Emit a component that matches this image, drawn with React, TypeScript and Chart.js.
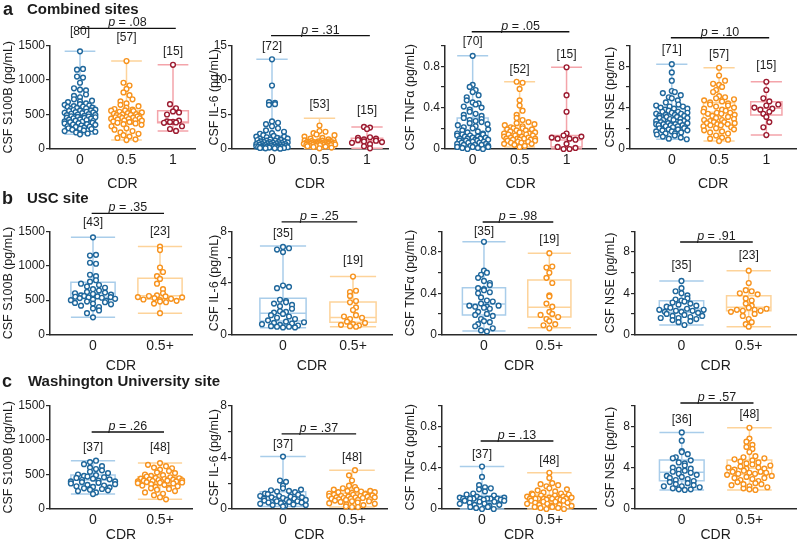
import React, { useEffect, useRef } from 'react';
import { Chart, registerables } from 'chart.js';
Chart.register(...registerables);

const FONT = '"Liberation Sans", Arial, Helvetica, sans-serif';
Chart.defaults.font.family = FONT;

// ---------- categories, tick labels, p values ----------
const cdrCombined = ['0', '0.5', '1'];
const cdrSite = ['0', '0.5+'];
const s100bTickLabels = ['0', '500', '1000', '1500'];
const il6CombinedTickLabels = ['0', '5', '10', '15'];
const il6SiteTickLabels = ['0', '4', '8'];
const tnfTickLabels = ['0', '0.4', '0.8'];
const nseTickLabels = ['0', '4', '8'];
const pValues = ['.08', '.31', '.05', '.10', '.35', '.25', '.98', '.91', '.26', '.37', '.13', '.57'];

// ---------- a: Combined sites ----------
const nA_s100b = [80, 57, 15];
const s100bA_cdr0 = [1415,1160,1150,1050,1035,960,880,860,850,790,770,750,720,700,690,680,660,650,640,630,620,615,610,600,595,590,580,570,565,560,555,550,540,535,530,525,520,510,505,500,495,490,480,475,470,465,460,455,450,445,440,430,425,420,410,405,400,395,390,380,375,370,360,355,350,340,330,325,320,310,300,295,290,280,270,260,250,240,225,212];
const s100bA_cdr05 = [1275,960,920,870,820,780,720,690,660,640,620,600,580,570,560,555,550,540,530,520,510,505,500,495,490,480,475,470,465,460,455,450,445,440,435,430,420,415,410,400,395,390,380,370,360,350,330,300,280,260,240,220,200,180,160,140,130];
const s100bA_cdr1 = [1220,650,590,545,530,500,410,400,395,390,385,380,330,290,262];
const s100bA_box0 = [212, 406, 500, 628, 1415];
const s100bA_box05 = [130, 406, 465, 555, 1275];
const s100bA_box1 = [262, 381, 392, 555, 1220];

const nA_il6 = [72, 53, 15];
const il6A_cdr0 = [13,9.2,6.8,6.7,6.5,6.4,4.0,3.8,3.6,3.3,3.0,2.7,2.5,2.3,2.2,2.0,1.9,1.8,1.8,1.7,1.6,1.5,1.5,1.4,1.4,1.3,1.3,1.2,1.2,1.1,1.1,1.0,1.0,1.0,0.95,0.9,0.9,0.85,0.8,0.8,0.75,0.7,0.7,0.7,0.65,0.6,0.6,0.6,0.55,0.5,0.5,0.5,0.45,0.45,0.4,0.4,0.4,0.35,0.35,0.3,0.3,0.3,0.25,0.25,0.2,0.2,0.2,0.15,0.15,0.1,0.1,0.05];
const il6A_cdr05 = [3.4,2.6,2.5,2.3,2.1,2.0,1.8,1.6,1.5,1.4,1.3,1.25,1.2,1.15,1.1,1.1,1.05,1.0,1.0,1.0,0.95,0.95,0.9,0.9,0.9,0.85,0.85,0.85,0.8,0.8,0.8,0.8,0.75,0.75,0.75,0.7,0.7,0.7,0.65,0.65,0.6,0.6,0.6,0.55,0.55,0.5,0.5,0.45,0.4,0.35,0.3,0.2,0.1];
const il6A_cdr1 = [3.2,3.1,2.9,1.7,1.6,1.5,1.4,1.3,1.2,1.1,1.0,0.9,0.7,0.4,0.1];
const il6A_box0 = [0.05, 0.45, 0.9, 1.93, 13];
const il6A_box05 = [0.1, 0.6, 0.8, 1.1, 4.45];
const il6A_box1 = [0.1, 0.91, 1.2, 1.55, 3.2];

const nA_tnf = [70, 52, 15];
const tnfA_cdr0 = [0.9,0.62,0.6,0.57,0.55,0.52,0.5,0.47,0.45,0.44,0.43,0.41,0.4,0.38,0.36,0.34,0.33,0.32,0.3,0.29,0.28,0.27,0.26,0.25,0.24,0.23,0.22,0.21,0.2,0.19,0.18,0.17,0.16,0.15,0.15,0.14,0.14,0.13,0.13,0.12,0.12,0.11,0.11,0.1,0.1,0.1,0.09,0.09,0.08,0.08,0.08,0.07,0.07,0.06,0.06,0.06,0.05,0.05,0.04,0.04,0.04,0.03,0.03,0.02,0.02,0.02,0.01,0.01,0.0,0.0];
const tnfA_cdr05 = [0.65,0.64,0.58,0.47,0.42,0.37,0.33,0.3,0.28,0.26,0.25,0.24,0.23,0.22,0.21,0.2,0.2,0.19,0.19,0.18,0.18,0.17,0.16,0.16,0.15,0.15,0.14,0.14,0.13,0.13,0.12,0.12,0.11,0.11,0.1,0.1,0.1,0.1,0.09,0.09,0.09,0.08,0.08,0.07,0.07,0.06,0.06,0.05,0.05,0.04,0.03,0.02];
const tnfA_cdr1 = [0.79,0.52,0.36,0.15,0.13,0.12,0.11,0.1,0.1,0.09,0.05,0.02,0.01,0.0,0.0];
const tnfA_box0 = [0, 0.07, 0.13, 0.30, 0.9];
const tnfA_box05 = [0.02, 0.087, 0.13, 0.19, 0.65];
const tnfA_box1 = [0, 0.02, 0.087, 0.13, 0.79];

const nA_nse = [71, 57, 15];
const nseA_cdr0 = [8.2,7.4,6.6,5.6,5.5,5.4,5.2,5.0,4.9,4.7,4.5,4.3,4.2,4.1,4.1,4.0,3.9,3.9,3.8,3.7,3.6,3.6,3.5,3.5,3.4,3.4,3.3,3.3,3.2,3.2,3.1,3.1,3.0,3.0,2.9,2.9,2.8,2.8,2.7,2.7,2.6,2.6,2.5,2.5,2.4,2.4,2.4,2.3,2.3,2.3,2.2,2.2,2.1,2.1,2.0,2.0,1.9,1.9,1.8,1.8,1.7,1.7,1.6,1.5,1.5,1.4,1.3,1.2,1.1,1.0,0.94];
const nseA_cdr05 = [7.85,7.1,6.6,6.3,6.2,6.0,5.7,5.5,5.1,5.0,4.9,4.8,4.7,4.6,4.5,4.4,4.3,4.2,4.1,4.0,3.9,3.8,3.7,3.6,3.5,3.5,3.4,3.4,3.3,3.2,3.1,3.0,2.9,2.8,2.8,2.7,2.6,2.6,2.5,2.5,2.4,2.4,2.3,2.3,2.2,2.1,2.0,1.9,1.8,1.7,1.6,1.5,1.3,1.1,1.0,0.9,0.77];
const nseA_cdr1 = [6.5,5.7,4.9,4.6,4.3,4.2,4.0,3.9,3.8,3.6,3.4,3.1,2.6,2.1,1.35];
const nseA_box0 = [0.94, 2.1, 3.0, 3.99, 8.2];
const nseA_box05 = [0.77, 2.42, 3.54, 4.47, 7.85];
const nseA_box1 = [1.35, 3.29, 3.93, 4.57, 6.5];

// ---------- b: USC site ----------
const nB_s100b = [43, 23];
const s100bB_cdr0 = [1415,1160,1150,1045,1030,870,850,790,770,740,720,700,680,660,640,620,610,600,590,580,570,560,555,550,545,540,535,530,520,510,500,490,480,470,460,450,440,420,400,380,350,310,250];
const s100bB_cdr05 = [1280,1230,975,910,850,810,740,660,600,570,560,555,545,540,530,520,510,500,490,480,470,450,310];
const s100bB_box0 = [250, 542, 600, 760, 1415];
const s100bB_box05 = [310, 513, 565, 818, 1280];

const nB_il6 = [35, 19];
const il6B_cdr0 = [6.8,6.7,6.6,6.4,3.8,3.7,3.6,2.7,2.6,2.5,2.4,2.3,2.2,2.0,1.8,1.75,1.7,1.6,1.5,1.4,1.3,1.2,1.1,1.0,0.95,0.9,0.85,0.8,0.75,0.7,0.65,0.6,0.6,0.55,0.55];
const il6B_cdr05 = [4.5,3.4,3.3,3.0,2.6,2.5,2.1,1.9,1.5,1.4,1.3,1.2,1.0,0.9,0.8,0.75,0.7,0.65,0.6];
const il6B_box0 = [0.53, 1.05, 1.65, 2.81, 6.87];
const il6B_box05 = [0.6, 0.95, 1.33, 2.52, 4.5];

const nB_tnf = [35, 19];
const tnfB_cdr0 = [0.9,0.62,0.6,0.58,0.55,0.52,0.5,0.48,0.45,0.44,0.43,0.41,0.4,0.36,0.33,0.32,0.3,0.28,0.28,0.27,0.27,0.26,0.25,0.22,0.2,0.19,0.18,0.15,0.13,0.12,0.1,0.08,0.06,0.04,0.03];
const tnfB_cdr05 = [0.79,0.66,0.65,0.6,0.55,0.5,0.38,0.37,0.3,0.27,0.22,0.2,0.19,0.17,0.15,0.13,0.1,0.09,0.06];
const tnfB_box0 = [0.035, 0.19, 0.296, 0.454, 0.9];
const tnfB_box05 = [0.066, 0.17, 0.264, 0.53, 0.79];

const nB_nse = [35, 23];
const nseB_cdr0 = [5.2,4.5,4.2,4.0,3.8,3.5,3.4,3.3,3.2,3.1,3.0,2.9,2.8,2.7,2.6,2.5,2.4,2.4,2.3,2.3,2.2,2.2,2.1,2.0,1.9,1.8,1.8,1.7,1.6,1.6,1.5,1.4,1.3,1.2,0.92];
const nseB_cdr05 = [6.2,5.0,4.3,4.2,4.0,3.9,3.5,3.3,3.0,2.8,2.6,2.5,2.4,2.4,2.3,2.3,2.2,2.0,1.8,1.5,1.2,1.0,0.76];
const nseB_box0 = [0.92, 2.15, 2.47, 3.28, 5.2];
const nseB_box05 = [0.76, 2.31, 2.64, 3.77, 6.2];

// ---------- c: Washington University site ----------
const nC_s100b = [37, 48];
const s100bC_cdr0 = [700,680,650,620,600,580,560,540,520,500,490,480,470,460,450,440,430,420,410,400,400,390,380,370,360,350,340,330,320,310,300,290,280,270,260,240,217];
const s100bC_cdr05 = [665,640,620,600,590,570,550,530,520,500,490,480,470,460,450,445,440,435,430,425,420,415,410,410,405,400,400,395,390,385,380,375,370,360,350,340,330,320,310,300,290,280,260,240,220,200,170,140];
const s100bC_box0 = [217, 348, 420, 493, 700];
const s100bC_box05 = [140, 372, 410, 468, 665];

const nC_il6 = [37, 48];
const il6C_cdr0 = [4.05,2.2,2.1,1.8,1.6,1.5,1.45,1.4,1.35,1.3,1.2,1.15,1.1,1.0,1.0,0.95,0.9,0.9,0.85,0.8,0.8,0.75,0.7,0.7,0.65,0.6,0.6,0.55,0.5,0.5,0.45,0.4,0.35,0.3,0.3,0.25,0.2];
const il6C_cdr05 = [3.0,2.6,2.2,1.8,1.7,1.6,1.5,1.5,1.4,1.4,1.35,1.3,1.3,1.25,1.2,1.2,1.15,1.1,1.1,1.05,1.0,1.0,1.0,0.95,0.95,0.9,0.9,0.9,0.85,0.85,0.8,0.8,0.75,0.75,0.7,0.7,0.65,0.6,0.6,0.55,0.5,0.45,0.4,0.35,0.3,0.2,0.15,0.15];
const il6C_box0 = [0.2, 0.62, 0.95, 1.34, 4.05];
const il6C_box05 = [0.15, 0.83, 1.0, 1.21, 3.0];

const nC_tnf = [37, 48];
const tnfC_cdr0 = [0.41,0.31,0.23,0.21,0.2,0.19,0.17,0.15,0.14,0.13,0.12,0.11,0.11,0.1,0.1,0.1,0.1,0.1,0.1,0.1,0.09,0.09,0.08,0.08,0.07,0.07,0.06,0.05,0.05,0.04,0.04,0.03,0.02,0.02,0.01,0.0,0.0];
const tnfC_cdr05 = [0.35,0.3,0.25,0.24,0.23,0.22,0.2,0.19,0.18,0.17,0.16,0.15,0.15,0.14,0.14,0.13,0.13,0.12,0.12,0.11,0.11,0.1,0.1,0.1,0.1,0.1,0.1,0.1,0.09,0.09,0.08,0.08,0.07,0.07,0.06,0.06,0.05,0.05,0.04,0.04,0.03,0.03,0.02,0.02,0.01,0.01,0.0,0.0];
const tnfC_box0 = [0, 0.061, 0.1, 0.126, 0.41];
const tnfC_box05 = [0, 0.07, 0.1, 0.135, 0.35];

const nC_nse = [36, 48];
const nseC_cdr0 = [7.4,6.6,5.6,5.5,5.3,5.0,4.9,4.7,4.5,4.4,4.2,4.0,3.9,3.8,3.7,3.6,3.5,3.4,3.3,3.2,3.1,3.0,2.9,2.8,2.7,2.6,2.5,2.4,2.3,2.2,2.2,2.1,2.0,1.9,1.9,1.84];
const nseC_cdr05 = [7.85,6.8,6.5,6.2,6.0,5.8,5.5,5.1,5.0,4.9,4.8,4.7,4.6,4.5,4.4,4.3,4.2,4.1,4.0,4.0,3.9,3.9,3.8,3.7,3.6,3.5,3.5,3.4,3.4,3.3,3.2,3.1,3.0,3.0,2.9,2.8,2.7,2.6,2.5,2.4,2.3,2.2,2.1,2.0,1.9,1.84,2.4,3.6];
const nseC_box0 = [1.84, 2.74, 3.55, 4.73, 7.4];
const nseC_box05 = [1.84, 3.35, 3.93, 4.73, 7.85];

// ---------- styling / layout ----------
const COLORS: Record<string, { pt: string; box: string }> = {
  blue: { pt: '#1f679c', box: '#a9cdea' },
  orange: { pt: '#f7931e', box: '#fdd39a' },
  red: { pt: '#9c1b30', box: '#f4a4aa' },
};
const TEXT = '#1c1c1c';
const AXIS = '#2a2a2a';
const BOX_FRAC = 0.66;
const DIAM = 6;

const ROWS = [
  { top: 0, h: 195, plotTop: 45.5, plotBottom: 149, titlePad: 2.6 },
  { top: 195, h: 180, plotTop: 36.5, plotBottom: 139.5, titlePad: 0.6 },
  { top: 375, h: 169, plotTop: 30.5, plotBottom: 134, titlePad: 0 },
];
const COLS = [
  { left: 0, titlePad: 1 },
  { left: 200, titlePad: 7 },
  { left: 400, titlePad: 3.5 },
  { left: 600, titlePad: 3.5 },
];

type YKind = { max: number; step: number; labels: string[]; title: string };
const YAX: Record<string, YKind> = {
  s100b: { max: 1500, step: 500, labels: s100bTickLabels, title: 'CSF S100B (pg/mL)' },
  il6a: { max: 15, step: 5, labels: il6CombinedTickLabels, title: 'CSF IL-6 (pg/mL)' },
  il6: { max: 8, step: 2, labels: il6SiteTickLabels, title: 'CSF IL-6 (pg/mL)' },
  tnf: { max: 1, step: 0.2, labels: tnfTickLabels, title: 'CSF TNFα (pg/mL)' },
  nse: { max: 10, step: 2, labels: nseTickLabels, title: 'CSF NSE (pg/mL)' },
};

type Group = { values: number[]; box: number[]; color: string };
type PanelSpec = {
  row: number; col: number; axis: [number, number]; cat0: number; spacing: number;
  y: string; cats: string[]; groups: Group[]; n: number[]; nY: number[]; p: string; pY: number;
};
const G = (values: number[], box: number[], color: string): Group => ({ values, box, color });

const PANELS: PanelSpec[] = [
  { row: 0, col: 0, axis: [50, 195], cat0: 80, spacing: 46.5, y: 's100b', cats: cdrCombined,
    groups: [G(s100bA_cdr0, s100bA_box0, 'blue'), G(s100bA_cdr05, s100bA_box05, 'orange'), G(s100bA_cdr1, s100bA_box1, 'red')],
    n: nA_s100b, nY: [1695, 1608, 1406], p: pValues[0], pY: 1749 },
  { row: 0, col: 1, axis: [232, 388], cat0: 272, spacing: 47.5, y: 'il6a', cats: cdrCombined,
    groups: [G(il6A_cdr0, il6A_box0, 'blue'), G(il6A_cdr05, il6A_box05, 'orange'), G(il6A_cdr1, il6A_box1, 'red')],
    n: nA_il6, nY: [14.82, 6.38, 5.51], p: pValues[1], pY: 16.42 },
  { row: 0, col: 2, axis: [445, 598], cat0: 473, spacing: 47.5, y: 'tnf', cats: cdrCombined,
    groups: [G(tnfA_cdr0, tnfA_box0, 'blue'), G(tnfA_cdr05, tnfA_box05, 'orange'), G(tnfA_cdr1, tnfA_box1, 'red')],
    n: nA_tnf, nY: [1.037, 0.763, 0.908], p: pValues[2], pY: 1.133 },
  { row: 0, col: 3, axis: [630, 797], cat0: 672, spacing: 47.5, y: 'nse', cats: cdrCombined,
    groups: [G(nseA_cdr0, nseA_box0, 'blue'), G(nseA_cdr05, nseA_box05, 'orange'), G(nseA_cdr1, nseA_box1, 'red')],
    n: nA_nse, nY: [9.57, 9.15, 8.05], p: pValues[3], pY: 10.75 },

  { row: 1, col: 0, axis: [50, 192], cat0: 93, spacing: 67, y: 's100b', cats: cdrSite,
    groups: [G(s100bB_cdr0, s100bB_box0, 'blue'), G(s100bB_cdr05, s100bB_box05, 'orange')],
    n: nB_s100b, nY: [1628, 1497], p: pValues[4], pY: 1765 },
  { row: 1, col: 1, axis: [232, 392], cat0: 283, spacing: 70, y: 'il6', cats: cdrSite,
    groups: [G(il6B_cdr0, il6B_box0, 'blue'), G(il6B_cdr05, il6B_box05, 'orange')],
    n: nB_il6, nY: [7.86, 5.73], p: pValues[5], pY: 8.74 },
  { row: 1, col: 2, axis: [442, 600], cat0: 485, spacing: 67, y: 'tnf', cats: cdrSite,
    groups: [G(tnfB_cdr0, tnfB_box0, 'blue'), G(tnfB_cdr05, tnfB_box05, 'orange')],
    n: nB_tnf, nY: [0.998, 0.917], p: pValues[6], pY: 1.092 },
  { row: 1, col: 3, axis: [635, 798], cat0: 682, spacing: 68, y: 'nse', cats: cdrSite,
    groups: [G(nseB_cdr0, nseB_box0, 'blue'), G(nseB_cdr05, nseB_box05, 'orange')],
    n: nB_nse, nY: [6.65, 7.62], p: pValues[7], pY: 8.98 },

  { row: 2, col: 0, axis: [50, 192], cat0: 93, spacing: 67, y: 's100b', cats: cdrSite,
    groups: [G(s100bC_cdr0, s100bC_box0, 'blue'), G(s100bC_cdr05, s100bC_box05, 'orange')],
    n: nC_s100b, nY: [888, 888], p: pValues[8], pY: 1116 },
  { row: 2, col: 1, axis: [232, 387], cat0: 283, spacing: 69, y: 'il6', cats: cdrSite,
    groups: [G(il6C_cdr0, il6C_box0, 'blue'), G(il6C_cdr05, il6C_box05, 'orange')],
    n: nC_il6, nY: [4.95, 3.97], p: pValues[9], pY: 5.8 },
  { row: 2, col: 2, axis: [442, 600], cat0: 483, spacing: 69, y: 'tnf', cats: cdrSite,
    groups: [G(tnfC_cdr0, tnfC_box0, 'blue'), G(tnfC_cdr05, tnfC_box05, 'orange')],
    n: nC_tnf, nY: [0.522, 0.464], p: pValues[10], pY: 0.657 },
  { row: 2, col: 3, axis: [635, 797], cat0: 682, spacing: 68, y: 'nse', cats: cdrSite,
    groups: [G(nseC_cdr0, nseC_box0, 'blue'), G(nseC_cdr05, nseC_box05, 'orange')],
    n: nC_nse, nY: [8.6, 9.08], p: pValues[11], pY: 10.24 },
];

// Prism-like swarm: points binned in rows, spread horizontally (pixel offsets).
// Slot order inside a row is interleaved so rows don't slant.
function swarmOffsets(values: number[], pxPerVal: number, diam: number, maxW: number): number[] {
  const idx = values.map((_, i) => i).sort((a, b) => values[a] - values[b]);
  const bins = new Map<number, number[]>();
  idx.forEach((i) => {
    const b = Math.round((values[i] * pxPerVal) / diam);
    if (!bins.has(b)) bins.set(b, []);
    bins.get(b)!.push(i);
  });
  const out = new Array(values.length).fill(0);
  let rowNo = 0;
  const keys = Array.from(bins.keys()).sort((a, b) => a - b);
  keys.forEach((key) => {
    const list = bins.get(key)!;
    const k = list.length;
    rowNo++;
    if (k < 2) return;
    const sp = Math.min(diam, maxW / (k - 1));
    const slots = list.map((_, j) => j);
    const order = slots
      .map((j) => ({ j, r: ((j + 1) * 0.6180339887 + rowNo * 0.37) % 1 }))
      .sort((a, b) => a.r - b.r)
      .map((o) => o.j);
    list.forEach((i, j) => {
      out[i] = (order[j] - (k - 1) / 2) * sp;
    });
  });
  return out;
}

function Panel({ spec }: { spec: PanelSpec }) {
  const ref = useRef<HTMLCanvasElement>(null);
  const row = ROWS[spec.row];
  const col = COLS[spec.col];
  useEffect(() => {
    const ax = YAX[spec.y];
    const sp = spec.spacing;
    const xmin = (spec.axis[0] - spec.cat0) / sp;
    const xmax = (spec.axis[1] - spec.cat0) / sp;
    const pxPerVal = (row.plotBottom - row.plotTop) / ax.max;
    const last = spec.cats.length - 1;

    const datasets = spec.groups.map((g, gi) => {
      const offs = swarmOffsets(g.values, pxPerVal, DIAM, BOX_FRAC * sp);
      return {
        data: g.values.map((v, i) => ({ x: gi + offs[i] / sp, y: v })),
        pointRadius: 2.4,
        pointHoverRadius: 2.4,
        pointBorderWidth: 1.4,
        pointBorderColor: COLORS[g.color].pt,
        pointBackgroundColor: '#ffffff',
        borderColor: COLORS[g.color].pt,
        backgroundColor: '#ffffff',
        showLine: false,
        clip: false as any,
      };
    });

    const annot = {
      id: 'annot',
      beforeDatasetsDraw(chart: any) {
        const { ctx } = chart;
        const xs = chart.scales.x;
        const ys = chart.scales.y;
        const Y = (v: number) => ys.getPixelForValue(v);
        spec.groups.forEach((g, gi) => {
          const [mn, q1, md, q3, mx] = g.box;
          const cx = xs.getPixelForValue(gi);
          const l = xs.getPixelForValue(gi - BOX_FRAC / 2);
          const r = xs.getPixelForValue(gi + BOX_FRAC / 2);
          ctx.save();
          ctx.strokeStyle = COLORS[g.color].box;
          ctx.lineWidth = 1.5;
          ctx.beginPath();
          ctx.moveTo(cx, Y(mx)); ctx.lineTo(cx, Y(q3));
          ctx.moveTo(cx, Y(q1)); ctx.lineTo(cx, Y(mn));
          ctx.moveTo(l, Y(mx)); ctx.lineTo(r, Y(mx));
          ctx.moveTo(l, Y(mn)); ctx.lineTo(r, Y(mn));
          ctx.moveTo(l, Y(md)); ctx.lineTo(r, Y(md));
          ctx.rect(l, Y(q3), r - l, Y(q1) - Y(q3));
          ctx.stroke();
          ctx.restore();
        });
      },
      afterDatasetsDraw(chart: any) {
        const { ctx } = chart;
        const xs = chart.scales.x;
        const ys = chart.scales.y;
        ctx.save();
        ctx.fillStyle = TEXT;
        ctx.font = `12px ${FONT}`;
        ctx.textAlign = 'center';
        ctx.textBaseline = 'middle';
        spec.n.forEach((n, i) => {
          ctx.fillText(`[${n}]`, xs.getPixelForValue(i), ys.getPixelForValue(spec.nY[i]));
        });
        const py = ys.getPixelForValue(spec.pY);
        const x0 = xs.getPixelForValue(-0.02);
        const x1 = xs.getPixelForValue(last + 0.06);
        ctx.strokeStyle = '#111';
        ctx.lineWidth = 1.3;
        ctx.beginPath();
        ctx.moveTo(x0, py);
        ctx.lineTo(x1, py);
        ctx.stroke();
        ctx.textAlign = 'left';
        ctx.textBaseline = 'alphabetic';
        ctx.font = `italic 12.5px ${FONT}`;
        const w1 = ctx.measureText('p').width;
        ctx.font = `12.5px ${FONT}`;
        const rest = ` = ${spec.p}`;
        const w2 = ctx.measureText(rest).width;
        const start = (x0 + x1) / 2 - (w1 + w2) / 2;
        ctx.font = `italic 12.5px ${FONT}`;
        ctx.fillText('p', start, py - 2);
        ctx.font = `12.5px ${FONT}`;
        ctx.fillText(rest, start + w1, py - 2);
        ctx.restore();
      },
    };

    const chart = new Chart(ref.current as HTMLCanvasElement, {
      type: 'scatter',
      data: { datasets: datasets as any },
      options: {
        responsive: false,
        maintainAspectRatio: false,
        animation: false,
        events: [],
        layout: {
          padding: { left: 0, top: row.plotTop, right: 200 - (spec.axis[1] - col.left), bottom: 0 },
        },
        plugins: { legend: { display: false }, tooltip: { enabled: false } },
        scales: {
          x: {
            type: 'linear',
            min: xmin,
            max: xmax,
            afterBuildTicks: (s: any) => {
              s.ticks = spec.cats.map((_, i) => ({ value: i }));
            },
            afterFit: (s: any) => {
              s.height = row.h - row.plotBottom;
            },
            ticks: {
              autoSkip: false,
              maxRotation: 0,
              padding: 3,
              color: TEXT,
              font: { size: 14, family: FONT },
              callback: (v: any) => spec.cats[Math.round(Number(v))] ?? '',
            },
            grid: { display: false, drawTicks: false },
            border: { display: true, color: AXIS, width: 1.5 },
            title: {
              display: true,
              text: 'CDR',
              color: TEXT,
              font: { size: 14, family: FONT },
              padding: { top: 0, bottom: row.titlePad },
            },
          },
          y: {
            type: 'linear',
            min: 0,
            max: ax.max,
            afterFit: (s: any) => {
              s.width = spec.axis[0] - col.left;
            },
            ticks: {
              stepSize: ax.step,
              autoSkip: false,
              padding: 1,
              color: TEXT,
              font: { size: 12, family: FONT },
              callback: (v: any) => {
                const lab = ax.labels.find((t) => Math.abs(Number(t) - Number(v)) < 1e-6);
                return lab ?? '';
              },
            },
            grid: { display: true, drawOnChartArea: false, drawTicks: true, tickLength: 4, color: AXIS, lineWidth: 1.2 },
            border: { display: true, color: AXIS, width: 1.5 },
            title: {
              display: true,
              text: ax.title,
              color: TEXT,
              font: { size: 12.5, family: FONT },
              padding: { top: col.titlePad, bottom: 0 },
            },
          },
        },
      } as any,
      plugins: [annot],
    });
    return () => chart.destroy();
  }, []);
  return (
    <canvas
      ref={ref}
      width={200}
      height={row.h}
      style={{ position: 'absolute', left: col.left, top: row.top, width: 200, height: row.h, display: 'block' }}
    />
  );
}

const HEADERS = [
  { letter: 'a', text: 'Combined sites', cy: 8.5, lx: 3, tx: 27 },
  { letter: 'b', text: 'USC site', cy: 198, lx: 2, tx: 27 },
  { letter: 'c', text: 'Washington University site', cy: 381, lx: 2, tx: 28 },
];

export default function App() {
  return (
    <div
      style={{
        position: 'absolute',
        left: 0,
        top: 0,
        width: 800,
        height: 544,
        background: '#ffffff',
        overflow: 'hidden',
        fontFamily: FONT,
        color: TEXT,
      }}
    >
      {PANELS.map((p, i) => (
        <Panel key={i} spec={p} />
      ))}
      {HEADERS.map((h) => (
        <React.Fragment key={h.letter}>
          <div style={{ position: 'absolute', left: h.lx, top: h.cy - 11, height: 22, lineHeight: '22px', fontSize: 18, fontWeight: 'bold' }}>
            {h.letter}
          </div>
          <div style={{ position: 'absolute', left: h.tx, top: h.cy - 10, height: 20, lineHeight: '20px', fontSize: 15, fontWeight: 'bold', whiteSpace: 'nowrap' }}>
            {h.text}
          </div>
        </React.Fragment>
      ))}
    </div>
  );
}
